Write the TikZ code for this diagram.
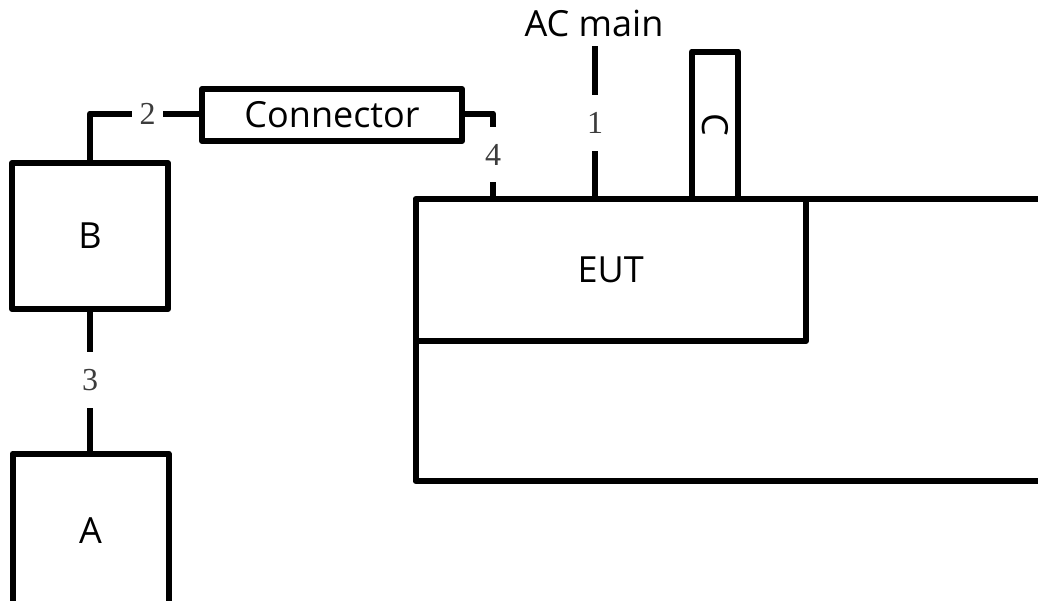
\documentclass[tikz,border=0pt]{standalone}
\usepackage{fontspec}
\setmainfont{Open Sans}
\newfontfamily\numfont{Liberation Serif}
\definecolor{numgray}{HTML}{3C3C3C}
\begin{document}
\begin{tikzpicture}[x=1pt,y=-1pt, line width=6pt, line join=round,
  box/.style={draw, line width=6pt, inner sep=0pt, outer sep=0pt, font=\fontsize{36}{40}\selectfont},
  num/.style={inner sep=0pt, outer sep=0pt, font=\numfont\fontsize{32}{36}\selectfont, text=numgray},
  lbl/.style={inner sep=0pt, outer sep=0pt, font=\fontsize{36}{40}\selectfont}]
\clip (0,0) rectangle (1038,600);
\fill[white] (0,0) rectangle (1038,600);
% boxes
\node[box, minimum width=156pt, minimum height=146pt] (B) at (90,236) {B};
\node[box, minimum width=156pt, minimum height=154pt] (A) at (90.5,530.5) {A};
\node[box, minimum width=260pt, minimum height=52pt] (conn) at (332,115) {Connector};
\node[box, minimum width=390.5pt, minimum height=142pt] (EUT) at (610.75,270) {EUT};
\node[box, rotate=-90, minimum width=147.5pt, minimum height=46pt] (C) at (715,125.25) {C};
\node[lbl] (ac) at (594,23) {AC main};
\coordinate (acend) at (595,46);
% cable labels
\node[num, minimum height=56pt] (n1) at (595,123) {1};
\node[num, minimum width=31pt] (n2) at (147.5,113.5) {2};
\node[num, minimum height=56pt] (n3) at (90,380) {3};
\node[num, minimum height=55pt] (n4) at (493,154.5) {4};
% cables
\draw (B.north) |- (n2.west);
\draw (n2.east) -- (n2.east -| conn.west);
\draw (conn.east |- n2.east) -| (n4.north);
\draw (n4.south) -- (n4.south |- EUT.north);
\draw (acend) -- (n1.north);
\draw (n1.south) -- (n1.south |- EUT.north);
\draw (B.south) -- (n3.north);
\draw (n3.south) -- (n3.south |- A.north);
% table
\coordinate (tblR) at (1045,199);
\coordinate (tblBL) at (415.5,481);
\coordinate (tblBR) at (1045,481);
\draw (EUT.north east) -- (tblR);
\draw (EUT.south west) -- (tblBL) -- (tblBR);
\end{tikzpicture}
\end{document}
